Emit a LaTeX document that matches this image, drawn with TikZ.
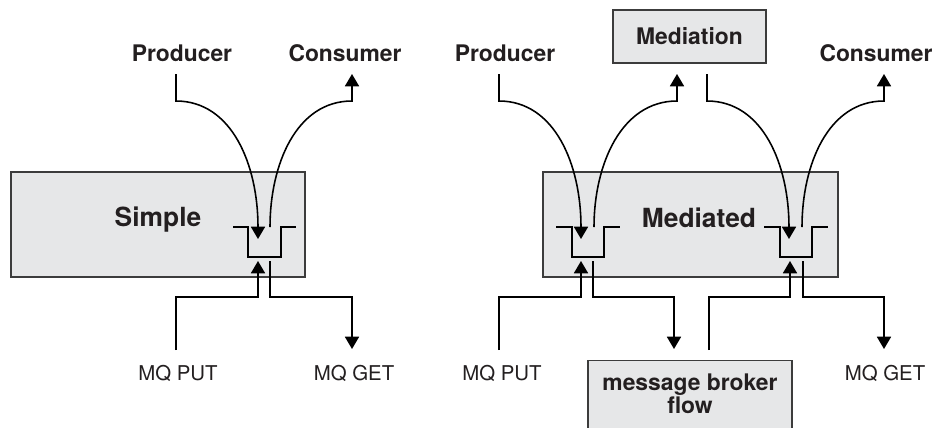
\documentclass[tikz,border=0pt]{standalone}
\usepackage{fontspec}
\setmainfont{TeX Gyre Heros}
\usetikzlibrary{arrows.meta,positioning}
\definecolor{boxfill}{RGB}{230,231,232}
\definecolor{boxline}{RGB}{60,60,60}
\definecolor{ink}{RGB}{35,31,32}

\begin{document}
\begin{tikzpicture}[x=0.02cm,y=-0.02cm,
  box/.style={draw=boxline,fill=boxfill,line width=0.8pt,inner sep=0pt},
  head/.style={font=\fontsize{13}{13.6}\selectfont\bfseries,text=ink,anchor=base,inner sep=0pt},
  title/.style={font=\fontsize{15}{18}\selectfont\bfseries,text=ink,anchor=base,inner sep=0pt},
  api/.style={font=\fontsize{11.6}{14}\selectfont,text=ink,anchor=base,inner sep=0pt},
  wire/.style={line width=0.9pt},
  arr/.style={wire,-{Triangle[width=8pt,length=7pt]}},
  queue/.style={line width=1.2pt}]
\useasboundingbox (0,0) rectangle (934,427);
\clip (0,0) rectangle (934,427);

% boxes
\node[box,minimum width=5.88cm,minimum height=2.1cm] (simple) at (158,224.5) {};
\node[box,minimum width=5.9cm,minimum height=2.1cm] (mediated) at (690.5,224.5) {};
\node[box,minimum width=3.06cm,minimum height=1.06cm,font=\fontsize{13}{15.6}\selectfont\bfseries,text=ink] (mediation) at (689.5,36.5) {Mediation};
\node[box,anchor=north,minimum width=4.08cm,minimum height=2cm] (broker) at (690,360) {};
\node[title] (simpleT) at (158,226) {Simple};
\node[title] (mediatedT) at (699,227) {Mediated};
\node[head,align=center,anchor=north] (brokerT) at (690,373) {message broker\\flow};

% labels
\node[head] (prodA) at (182,61) {Producer};
\node[head] (consA) at (345,61) {Consumer};
\node[head] (prodB) at (505,61) {Producer};
\node[head] (consB) at (876,61) {Consumer};
\node[api] (putA) at (178,380) {MQ PUT};
\node[api] (getA) at (354,380) {MQ GET};
\node[api] (putB) at (502,380) {MQ PUT};
\node[api] (getB) at (885,380) {MQ GET};

% queues
\draw[queue] (233,227) -| (248,257) -| (281,227) -- (296,227);
\draw[queue] (556,227) -| (572,257) -| (604,227) -- (620,227);
\draw[queue] (764,227) -| (780,257) -| (812,227) -- (828,227);

% line ends
\coordinate (qAin) at (258,239); \coordinate (qAout) at (270,227);
\coordinate (qAput) at (258,261); \coordinate (qAget) at (270,261);
\coordinate (qBin) at (581,239); \coordinate (qBout) at (594,227);
\coordinate (qBput) at (581,261); \coordinate (qBget) at (593,261);
\coordinate (qCin) at (789,239); \coordinate (qCout) at (802,227);
\coordinate (qCput) at (790,261); \coordinate (qCget) at (803,261);
\coordinate (pA) at (176,74); \coordinate (cA) at (352,74);
\coordinate (aPut) at (176,350); \coordinate (aGet) at (352,349);
\coordinate (pB) at (499,74); \coordinate (cB) at (884,74);
\coordinate (mIn) at (677,74); \coordinate (mOut) at (707,74);
\coordinate (bPut) at (499,350); \coordinate (bIn) at (674,349);
\coordinate (bOut) at (709,350); \coordinate (bGet) at (884,349);

% simple
\draw[arr] (pA) -- (176,101) .. controls (232,101) and (258,165) .. (qAin);
\draw[arr] (qAout) .. controls (270,165) and (296,101) .. (352,101) -- (cA);
\draw[arr] (aPut) -- (176,297) -| (qAput);
\draw[arr] (qAget) -- (270,297) -| (aGet);

% mediated
\draw[arr] (pB) -- (499,101) .. controls (555,101) and (581,165) .. (qBin);
\draw[arr] (qBout) .. controls (594,165) and (621,101) .. (677,101) -- (mIn);
\draw[arr] (mOut) -- (707,101) .. controls (763,101) and (789,165) .. (qCin);
\draw[arr] (qCout) .. controls (802,165) and (828,101) .. (884,101) -- (cB);
\draw[arr] (bPut) -- (499,297) -| (qBput);
\draw[arr] (qBget) -- (593,297) -| (bIn);
\draw[arr] (bOut) -- (709,297) -| (qCput);
\draw[arr] (qCget) -- (803,297) -| (bGet);
\end{tikzpicture}
\end{document}
